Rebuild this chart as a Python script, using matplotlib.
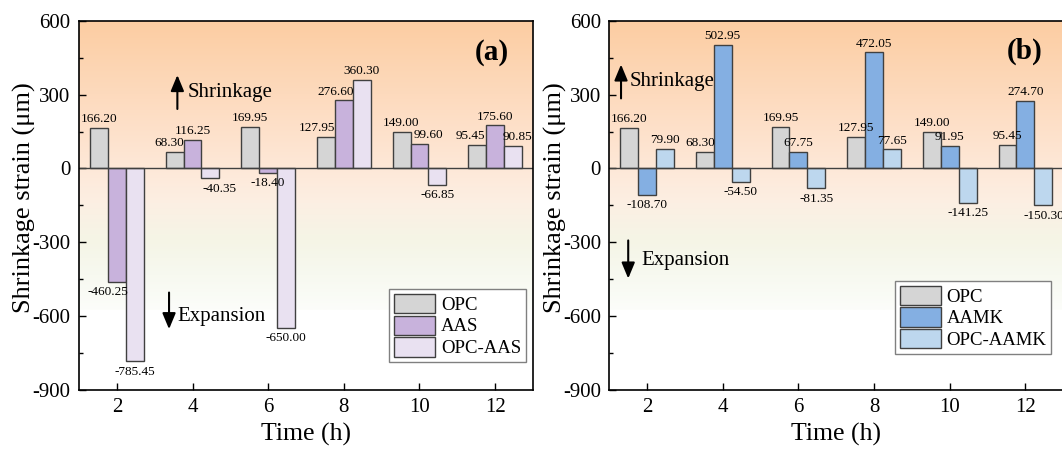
import numpy as np
import matplotlib
matplotlib.use("Agg")
import matplotlib.pyplot as plt
from matplotlib.colors import LinearSegmentedColormap
from matplotlib.ticker import MultipleLocator

plt.rcParams['font.family'] = ['Liberation Serif', 'DejaVu Serif']
plt.rcParams['axes.unicode_minus'] = False

# data
times = [2, 4, 6, 8, 10, 12]
opc = [166.20, 68.30, 169.95, 127.95, 149.00, 95.45]
aas = [-460.25, 116.25, -18.40, 276.60, 99.60, 175.60]
opc_aas = [-785.45, -40.35, -650.00, 360.30, -66.85, 90.85]
aamk = [-108.70, 502.95, 67.75, 472.05, 91.95, 274.70]
opc_aamk = [79.90, -54.50, -81.35, 77.65, -141.25, -150.30]

labels_a = ["OPC", "AAS", "OPC-AAS"]
labels_b = ["OPC", "AAMK", "OPC-AAMK"]
colors_a = ["#D5D5D5", "#C8B2DC", "#E9E1F1"]
colors_b = ["#D5D5D5", "#84AFE2", "#BDD7EE"]

# small horizontal nudges of value labels (pixels), to avoid overlaps
nudge_a = {(0, 1): -5, (0, 3): -9, (1, 3): -8, (0, 5): -7, (2, 5): 4,
           (2, 1): 9, (1, 0): -9, (1, 4): 9}
nudge_b = {(0, 1): -5}

bg_cmap = LinearSegmentedColormap.from_list(
    "bg", [(0.0, "#FCFDFA"), (0.12, "#F7F9F0"), (0.24, "#F5F5E6"),
           (0.37, "#FCEFE3"), (0.49, "#FEE8D8"), (0.75, "#FDDABD"),
           (1.0, "#FCCDA2")])

fig = plt.figure(figsize=(10.62, 4.5), dpi=100)
ax_a = fig.add_axes([79 / 1062, 60.4 / 450, 454 / 1062, 368.6 / 450])
ax_b = fig.add_axes([609.3 / 1062, 60.4 / 450, 454 / 1062, 368.6 / 450])

W = 0.475


def draw_panel(ax, series, labels, colors, nudges, tag, arrows, leg_anchor):
    grad = np.linspace(0, 1, 256).reshape(-1, 1)
    ax.imshow(grad, extent=[1, 13, -575, 600], origin='lower', aspect='auto',
              cmap=bg_cmap, zorder=0, interpolation='bilinear')
    x = np.array(times, dtype=float)
    for i, (vals, lab, col) in enumerate(zip(series, labels, colors)):
        xs = x + (i - 1) * W
        ax.bar(xs, vals, width=W, color=col, edgecolor='#404040',
               linewidth=1.0, label=lab, zorder=2)
        for j, (xx, v) in enumerate(zip(xs, vals)):
            dx = nudges.get((i, j), 0) * 0.72
            dy = 2 if v >= 0 else -3
            ax.annotate(f"{v:.2f}", (xx, v), xytext=(dx, dy),
                        textcoords='offset points', ha='center',
                        va='bottom' if v >= 0 else 'top', fontsize=9.5,
                        zorder=4)
    ax.axhline(0, color='#404040', lw=1.0, zorder=3)

    ax.set_xlim(1, 13)
    ax.set_ylim(-900, 600)
    ax.set_xticks(times)
    ax.yaxis.set_major_locator(MultipleLocator(300))
    ax.yaxis.set_minor_locator(MultipleLocator(150))
    ax.tick_params(axis='both', which='major', direction='in', length=5,
                   width=1.0, labelsize=15, pad=6)
    ax.tick_params(axis='y', which='minor', direction='in', length=3,
                   width=1.0)
    for s in ax.spines.values():
        s.set_linewidth(1.2)
        s.set_zorder(5)

    ax.set_xlabel("Time (h)", fontsize=18.5, labelpad=4)
    ax.set_ylabel("Shrinkage strain (μm)", fontsize=19)
    ax.yaxis.set_label_coords(-0.094, 0.52)

    ax.text(tag[1], tag[2], tag[0], fontsize=21, fontweight='bold',
            ha='center', va='center', zorder=4)

    (sx, st, sh, tx, ty), (ex, et, eh, ux, uy) = arrows
    ax.annotate('', xy=(sx, sh), xytext=(sx, st),
                arrowprops=dict(arrowstyle='-|>,head_width=0.25,head_length=0.6',
                                lw=1.5, color='black',
                                mutation_scale=16, shrinkA=0, shrinkB=0),
                zorder=4)
    ax.text(tx, ty, "Shrinkage", fontsize=15, ha='left', va='center', zorder=4)
    ax.annotate('', xy=(ex, eh), xytext=(ex, et),
                arrowprops=dict(arrowstyle='-|>,head_width=0.25,head_length=0.6',
                                lw=1.5, color='black',
                                mutation_scale=16, shrinkA=0, shrinkB=0),
                zorder=4)
    ax.text(ux, uy, "Expansion", fontsize=15, ha='left', va='center', zorder=4)

    leg = ax.legend(loc='lower right', bbox_to_anchor=leg_anchor,
                    borderaxespad=0, fontsize=13.5, frameon=True,
                    fancybox=False, edgecolor='#808080', framealpha=1,
                    handlelength=2.2, handleheight=1.2, labelspacing=0.1,
                    handletextpad=0.3, borderpad=0.25)
    leg.get_frame().set_linewidth(1.0)
    leg.set_zorder(6)


draw_panel(ax_a, [opc, aas, opc_aas], labels_a, colors_a, nudge_a,
           ("(a)", 11.9, 472),
           ((3.6, 242, 380, 3.87, 311), (3.38, -505, -654, 3.6, -601)),
           (0.984, 0.075))
draw_panel(ax_b, [opc, aamk, opc_aamk], labels_b, colors_b, nudge_b,
           ("(b)", 11.98, 475),
           ((1.31, 285, 423, 1.55, 354), (1.5, -293, -448, 1.86, -375)),
           (0.973, 0.097))

fig.savefig("out.png", dpi=100)
